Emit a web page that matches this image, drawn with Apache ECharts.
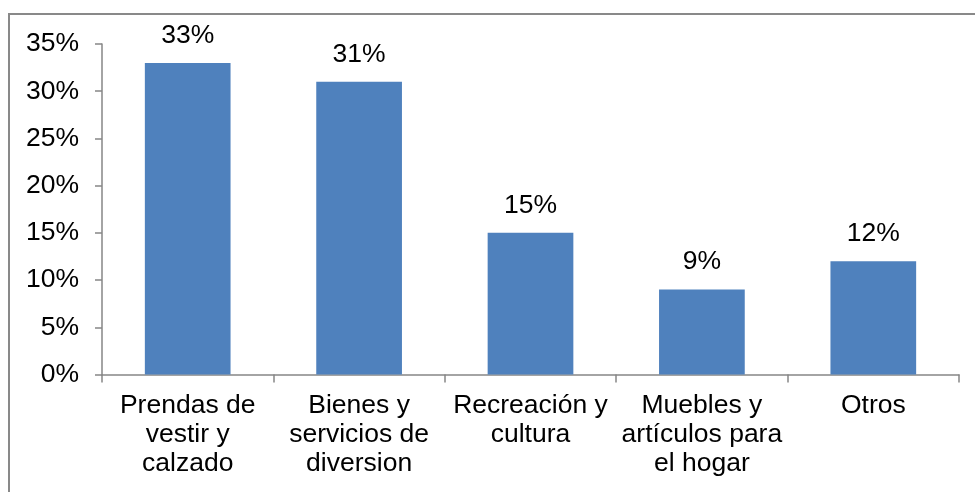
<!DOCTYPE html>
<html>
<head>
<meta charset="utf-8">
<script src="https://cdn.jsdelivr.net/npm/echarts@6/dist/echarts.min.js"></script>
<style>html,body{margin:0;padding:0;background:#fff}#c{width:975px;height:492px}</style>
</head>
<body>
<div id="c"></div>
<script>
var categories = ["Prendas de\nvestir y\ncalzado", "Bienes y\nservicios de\ndiversion", "Recreación y\ncultura", "Muebles y\nartículos para\nel hogar", "Otros"];
var values = [33, 31, 15, 9, 12];
var yTicks = {min: 0, max: 35, interval: 5};

var chart = echarts.init(document.getElementById('c'));
var font = '"Liberation Sans", Arial, sans-serif';
chart.setOption({
  animation: false,
  grid: {left: 102, right: 16, top: 44, bottom: 117.5, containLabel: false},
  graphic: [{
    type: 'rect', silent: true, z: -1,
    shape: {x: 9, y: 14, width: 1000, height: 1000},
    style: {fill: null, stroke: '#898989', lineWidth: 2}
  }],
  xAxis: {
    type: 'category', data: categories,
    axisLine: {lineStyle: {color: '#868686', width: 1.5}},
    axisTick: {show: true, length: 8, lineStyle: {color: '#868686', width: 1.5}},
    axisLabel: {color: '#000', fontFamily: font, fontSize: 26.5, lineHeight: 29, margin: 17, interval: 0}
  },
  yAxis: {
    type: 'value', min: yTicks.min, max: yTicks.max, interval: yTicks.interval,
    splitLine: {show: false},
    axisLine: {show: true, lineStyle: {color: '#868686', width: 1.5}},
    axisTick: {show: true, length: 7, lineStyle: {color: '#868686', width: 1.5}},
    axisLabel: {color: '#000', fontFamily: font, fontSize: 26.5, margin: 23, formatter: '{value}%'}
  },
  series: [{
    type: 'bar', data: values, barWidth: '50%',
    itemStyle: {color: '#4F81BD'},
    label: {show: true, position: 'top', distance: 14, color: '#000', fontFamily: font, fontSize: 26.5, formatter: '{c}%'}
  }]
});
</script>
</body>
</html>
